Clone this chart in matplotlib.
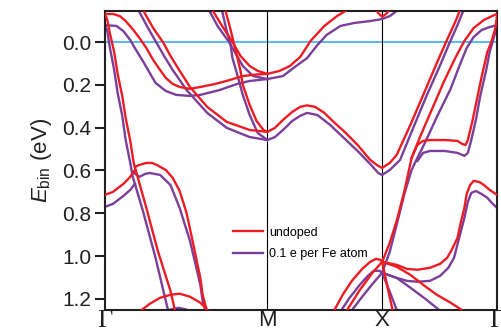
import matplotlib

matplotlib.use("Agg")
import matplotlib.pyplot as plt

plt.rcParams["font.family"] = ["Liberation Sans", "DejaVu Sans"]
plt.rcParams["mathtext.fontset"] = "custom"
plt.rcParams["mathtext.rm"] = "Liberation Sans"
plt.rcParams["mathtext.it"] = "Liberation Sans:italic"

# high-symmetry points along the path
k_points = [0.0, 1.414, 2.414, 3.414]
k_labels = ["Γ", "M", "X", "Γ"]

# --- undoped bands (k, E_bin in eV) ---
undoped = [
    # steep band from Gamma
    ([0.00, 0.02, 0.04, 0.08, 0.11, 0.15, 0.18, 0.22, 0.25, 0.36, 0.46, 0.57, 0.61],
     [-0.131, -0.103, -0.047, 0.047, 0.149, 0.252, 0.355, 0.462, 0.565, 0.775, 0.976, 1.162, 1.256]),
    # band at 0.71 eV at Gamma
    ([0.00, 0.07, 0.16, 0.22, 0.26],
     [0.714, 0.700, 0.663, 0.630, 0.598]),
    # hump band near 0.57 eV
    ([0.26, 0.30, 0.36, 0.41, 0.45, 0.53, 0.59, 0.65, 0.71, 0.77, 0.83, 0.85, 0.89],
     [0.584, 0.574, 0.565, 0.565, 0.574, 0.598, 0.635, 0.696, 0.798, 0.948, 1.102, 1.181, 1.260]),
    # dome at the bottom
    ([0.30, 0.39, 0.48, 0.57, 0.65, 0.74, 0.83, 0.90],
     [1.260, 1.223, 1.195, 1.181, 1.176, 1.190, 1.218, 1.256]),
    # flat top band, Gamma -> M
    ([0.00, 0.07, 0.13, 0.18, 0.24, 0.30, 0.36, 0.42, 0.48, 0.53, 0.59, 0.65, 0.74, 0.83, 0.96, 1.09, 1.20, 1.31, 1.414],
     [-0.131, -0.131, -0.121, -0.098, -0.061, -0.019, 0.028, 0.084, 0.131, 0.168, 0.196, 0.210, 0.219, 0.210, 0.196, 0.177, 0.159, 0.152, 0.149]),
    # band from top down to M (0.15 eV)
    ([0.92, 0.94, 1.02, 1.11, 1.18, 1.26, 1.33, 1.414],
     [-0.173, -0.145, -0.075, 0.000, 0.065, 0.112, 0.135, 0.149]),
    # band from top down to M (0.42 eV)
    ([1.04, 1.05, 1.09, 1.12, 1.15, 1.18, 1.20, 1.26, 1.32, 1.38, 1.414],
     [-0.173, -0.145, -0.065, 0.000, 0.065, 0.135, 0.200, 0.294, 0.369, 0.411, 0.420]),
    # band crossing E_F near Gamma, down to M (0.42 eV), on to X
    ([0.32, 0.33, 0.42, 0.51, 0.57, 0.63, 0.74, 0.89, 1.06, 1.26, 1.414, 1.48, 1.55, 1.63, 1.70, 1.76, 1.83, 1.91, 2.00, 2.08, 2.20, 2.31, 2.38, 2.414],
     [-0.173, -0.150, -0.065, 0.005, 0.065, 0.117, 0.210, 0.303, 0.373, 0.411, 0.420, 0.401, 0.364, 0.327, 0.303, 0.296, 0.303, 0.331, 0.378, 0.416, 0.481, 0.551, 0.579, 0.588]),
    # X (0.59 eV) up through E_F
    ([2.414, 2.48, 2.54, 2.66, 2.79, 2.89, 2.97, 3.05, 3.10],
     [0.588, 0.565, 0.528, 0.387, 0.224, 0.098, 0.000, -0.093, -0.159]),
    # M (0.15 eV) up out of the window
    ([1.414, 1.52, 1.61, 1.70, 1.79, 1.91, 2.02, 2.11, 2.20],
     [0.149, 0.135, 0.112, 0.070, -0.005, -0.075, -0.121, -0.150, -0.178]),
    # small piece touching X at the top
    ([2.33, 2.38, 2.414, 2.45, 2.51],
     [-0.175, -0.135, -0.118, -0.132, -0.170]),
    # hump near X from below
    ([1.99, 2.07, 2.15, 2.24, 2.31, 2.36, 2.40, 2.414],
     [1.260, 1.181, 1.116, 1.060, 1.027, 1.013, 1.018, 1.027]),
    ([2.11, 2.22, 2.33, 2.414],
     [1.251, 1.158, 1.078, 1.027]),
    # X (1.03 eV) steep up, then to Gamma top
    ([2.414, 2.48, 2.54, 2.61, 2.67, 2.74, 2.83, 2.95, 3.05, 3.13, 3.21, 3.30, 3.39, 3.414],
     [1.027, 0.938, 0.836, 0.691, 0.542, 0.448, 0.336, 0.187, 0.075, -0.005, -0.065, -0.103, -0.126, -0.131]),
    # X (1.03 eV) steep down
    ([2.414, 2.46, 2.51],
     [1.027, 1.144, 1.265]),
    # X (1.03 eV) gently down
    ([2.414, 2.54, 2.66, 2.77, 2.89, 3.01, 3.12],
     [1.027, 1.050, 1.088, 1.134, 1.181, 1.218, 1.256]),
    # X (1.03 eV) -> hump -> Gamma (0.71 eV)
    ([2.414, 2.54, 2.63, 2.72, 2.83, 2.92, 2.98, 3.02, 3.07, 3.10, 3.13, 3.15, 3.18, 3.21, 3.26, 3.30, 3.35, 3.414],
     [1.027, 1.041, 1.060, 1.064, 1.055, 1.036, 1.008, 0.971, 0.915, 0.840, 0.775, 0.710, 0.668, 0.649, 0.654, 0.668, 0.691, 0.714]),
    # flat band near 0.46 eV, rising steeply to Gamma
    ([2.67, 2.72, 2.77, 2.83, 2.96, 3.07, 3.11, 3.14, 3.16, 3.20, 3.24, 3.28, 3.33, 3.37, 3.40, 3.414],
     [0.542, 0.481, 0.462, 0.458, 0.458, 0.462, 0.476, 0.481, 0.458, 0.369, 0.266, 0.163, 0.047, -0.009, -0.065, -0.121]),
]

# --- 0.1 e per Fe atom ---
doped = [
    ([0.00, 0.02, 0.04, 0.08, 0.11, 0.15, 0.18, 0.22, 0.24, 0.33, 0.44, 0.55],
     [-0.079, -0.051, 0.019, 0.131, 0.238, 0.345, 0.458, 0.565, 0.626, 0.789, 1.008, 1.256]),
    ([0.00, 0.07, 0.16, 0.22, 0.26],
     [0.770, 0.756, 0.719, 0.691, 0.663]),
    ([0.24, 0.30, 0.35, 0.39, 0.48, 0.57, 0.65, 0.74, 0.83, 0.85, 0.88],
     [0.607, 0.630, 0.616, 0.612, 0.621, 0.668, 0.775, 0.929, 1.134, 1.209, 1.265]),
    ([0.48, 0.57, 0.64, 0.71, 0.78],
     [1.275, 1.250, 1.242, 1.250, 1.275]),
    ([0.00, 0.10, 0.16, 0.22, 0.27, 0.33, 0.39, 0.44, 0.53, 0.62, 0.74, 0.83, 1.00, 1.15, 1.26, 1.414],
     [-0.079, -0.075, -0.051, -0.009, 0.037, 0.089, 0.145, 0.191, 0.229, 0.247, 0.252, 0.247, 0.224, 0.196, 0.182, 0.173]),
    ([0.89, 0.91, 0.98, 1.08, 1.15, 1.20, 1.29, 1.414],
     [-0.173, -0.145, -0.075, 0.000, 0.065, 0.112, 0.159, 0.173]),
    ([1.01, 1.02, 1.06, 1.09, 1.11, 1.16, 1.20, 1.26, 1.33, 1.414],
     [-0.173, -0.145, -0.051, 0.000, 0.075, 0.168, 0.247, 0.341, 0.425, 0.458]),
    ([0.28, 0.29, 0.37, 0.45, 0.52, 0.59, 0.71, 0.89, 1.06, 1.26, 1.414, 1.48, 1.55, 1.63, 1.70, 1.76, 1.85, 1.96, 2.08, 2.20, 2.31, 2.38, 2.414],
     [-0.173, -0.150, -0.070, 0.005, 0.070, 0.131, 0.224, 0.331, 0.401, 0.444, 0.458, 0.444, 0.411, 0.369, 0.345, 0.331, 0.341, 0.387, 0.448, 0.509, 0.570, 0.612, 0.621]),
    ([2.414, 2.48, 2.57, 2.67, 2.80, 2.92, 3.00, 3.07, 3.13],
     [0.621, 0.598, 0.551, 0.420, 0.252, 0.107, 0.005, -0.079, -0.159]),
    ([1.414, 1.55, 1.63, 1.70, 1.76, 1.85, 1.93, 2.05, 2.17, 2.31, 2.41, 2.48, 2.54, 2.60],
     [0.173, 0.159, 0.126, 0.098, 0.075, 0.014, -0.033, -0.075, -0.089, -0.098, -0.107, -0.121, -0.145, -0.168]),
    ([2.05, 2.13, 2.22, 2.29, 2.34, 2.39, 2.414],
     [1.260, 1.195, 1.134, 1.092, 1.069, 1.069, 1.078]),
    ([2.14, 2.24, 2.33, 2.414],
     [1.260, 1.190, 1.130, 1.078]),
    ([2.414, 2.48, 2.54, 2.61, 2.67, 2.72, 2.79, 2.89, 3.01, 3.09, 3.15, 3.21, 3.28, 3.35, 3.414],
     [1.078, 0.980, 0.854, 0.705, 0.598, 0.542, 0.467, 0.350, 0.219, 0.107, 0.028, -0.023, -0.056, -0.070, -0.079]),
    ([2.414, 2.48, 2.55],
     [1.078, 1.167, 1.265]),
    ([2.414, 2.54, 2.66, 2.79, 2.92],
     [1.078, 1.102, 1.148, 1.200, 1.256]),
    ([2.414, 2.54, 2.63, 2.72, 2.83, 2.92, 2.99, 3.04, 3.08, 3.13, 3.16, 3.19, 3.23, 3.28, 3.33, 3.37, 3.414],
     [1.078, 1.102, 1.116, 1.120, 1.116, 1.092, 1.055, 1.008, 0.924, 0.822, 0.747, 0.705, 0.696, 0.710, 0.728, 0.752, 0.775]),
    ([2.72, 2.77, 2.83, 2.96, 3.07, 3.13, 3.16, 3.19, 3.23, 3.27, 3.32, 3.35, 3.38, 3.40, 3.414],
     [0.556, 0.518, 0.509, 0.509, 0.518, 0.532, 0.518, 0.458, 0.364, 0.247, 0.131, 0.047, -0.009, -0.047, -0.079]),
]

red = "#ed1c24"
purple = "#7b3f9a"

fig = plt.figure(figsize=(5.01, 3.34), dpi=100)
ax = fig.add_axes([0.2096, 0.0719, 0.7824, 0.8952])

ax.axhline(0, color="#35b2e6", lw=1.2, zorder=1)
for kp in k_points[1:3]:
    ax.axvline(kp, color="k", lw=0.8, zorder=1)

for i, (k, e) in enumerate(doped):
    ax.plot(k, e, color=purple, lw=1.7, zorder=2, solid_joinstyle="round",
            label="0.1 e per Fe atom" if i == 0 else None)
for i, (k, e) in enumerate(undoped):
    ax.plot(k, e, color=red, lw=1.7, zorder=3, solid_joinstyle="round",
            label="undoped" if i == 0 else None)

ax.set_xlim(k_points[0], k_points[-1])
ax.set_ylim(1.252, -0.145)
ax.set_yticks([0.0, 0.2, 0.4, 0.6, 0.8, 1.0, 1.2])
ax.set_yticklabels([f"{v:.1f}" for v in [0.0, 0.2, 0.4, 0.6, 0.8, 1.0, 1.2]])
ax.tick_params(axis="y", direction="out", length=7, width=1.5, labelsize=15, pad=3, colors="#231f20")
ax.set_xticks(k_points)
ax.set_xticklabels(k_labels)
ax.tick_params(axis="x", length=0, labelsize=16, pad=0, colors="#231f20")
for lab in ax.get_xticklabels():
    if lab.get_text() == "Γ":
        lab.set_fontfamily("Liberation Serif")
        lab.set_fontsize(19)

for sp in ax.spines.values():
    sp.set_linewidth(1.5)
    sp.set_color("#231f20")

ax.set_ylabel(r"$E_{\mathrm{bin}}$ (eV)", fontsize=16, color="#231f20", labelpad=6)

h, l = ax.get_legend_handles_labels()
ax.legend(h[::-1], l[::-1], loc="upper left", bbox_to_anchor=(0.31, 0.30), frameon=False,
          fontsize=9, handlelength=2.4, handletextpad=0.5, labelspacing=0.75, borderpad=0)

fig.savefig("out.png", dpi=100)
